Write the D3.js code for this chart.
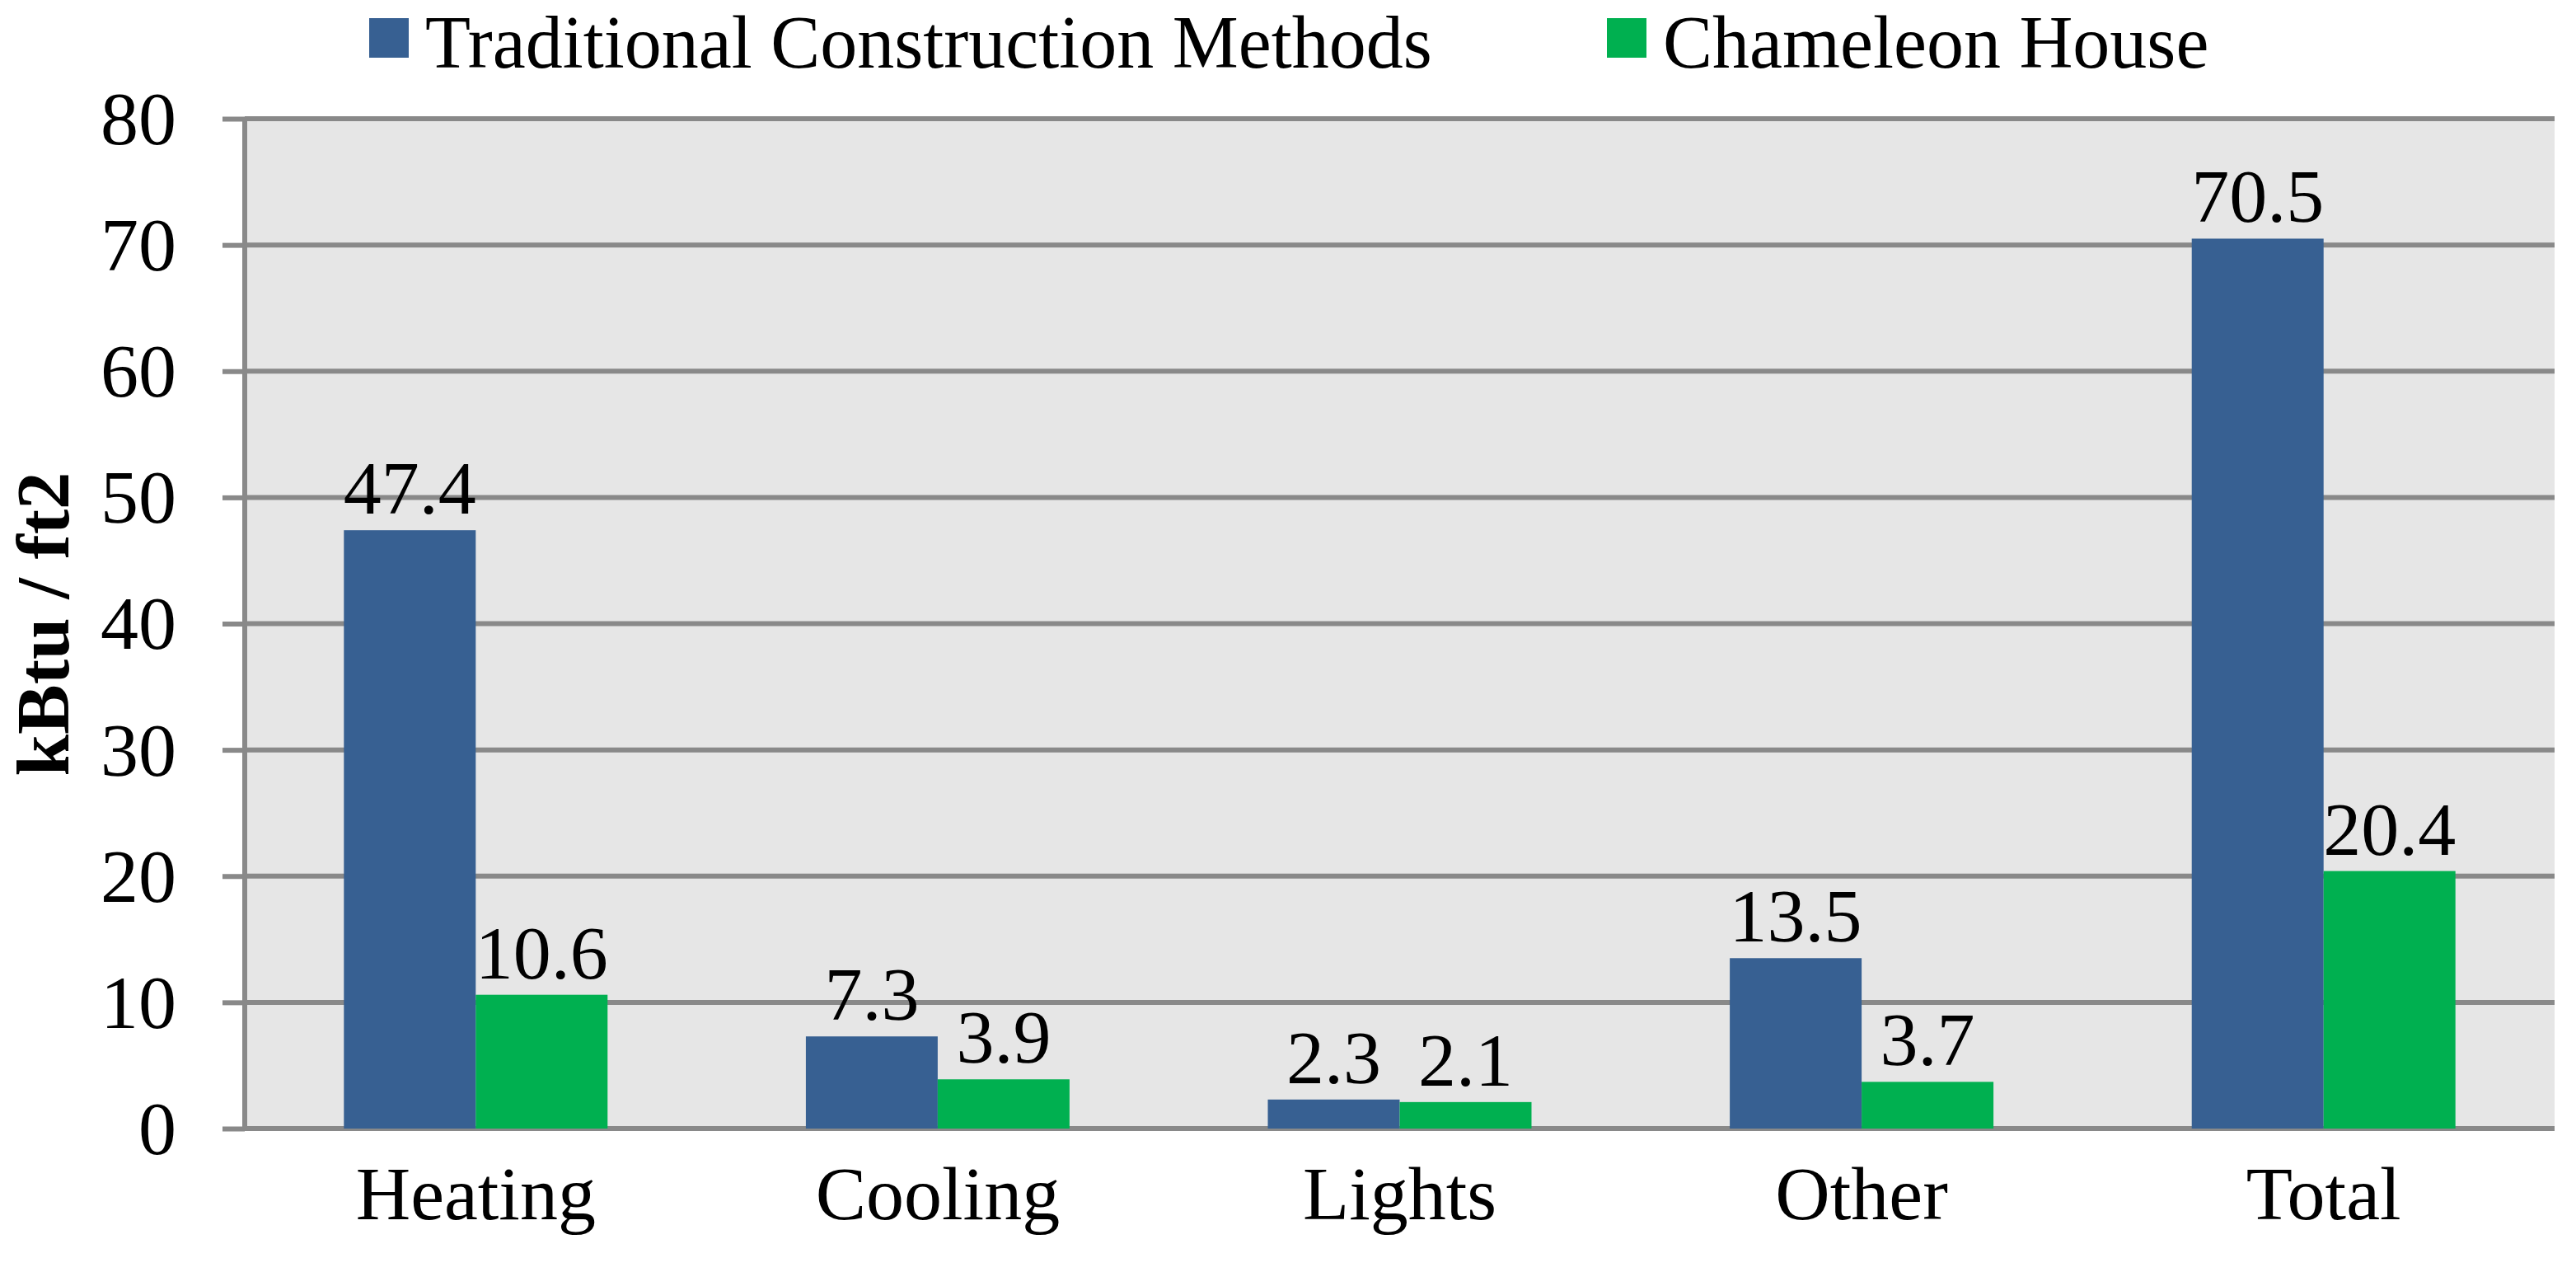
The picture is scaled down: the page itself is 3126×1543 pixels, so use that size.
<!DOCTYPE html>
<html>
<head>
<meta charset="utf-8">
<script src="https://cdn.jsdelivr.net/npm/d3@7"></script>
<style>
  body { margin: 0; background: #fff; }
  text { font-family: "Liberation Serif", "Times New Roman", serif; fill: #000; }
</style>
</head>
<body>
<div id="chart"></div>
<script>

// data
const categories = ["Heating", "Cooling", "Lights", "Other", "Total"];
const seriesNames = ["Traditional Construction Methods", "Chameleon House"];
const traditional = [47.4, 7.3, 2.3, 13.5, 70.5];
const chameleon = [10.6, 3.9, 2.1, 3.7, 20.4];
const yTicks = [0, 10, 20, 30, 40, 50, 60, 70, 80];

const width = 3126, height = 1543;
const margin = {top: 144, right: 26, bottom: 174, left: 297};
const colors = ["#376092", "#00b050"];
const gridColor = "#898989";

const svg = d3.select("#chart")
  .append("svg")
  .attr("width", width)
  .attr("height", height);

// scales
const xScale = d3.scaleBand()
  .domain(categories)
  .range([margin.left, width - margin.right]);

const xInner = d3.scaleBand()
  .domain(seriesNames)
  .range([0, xScale.bandwidth()])
  .paddingOuter(0.752);

const yScale = d3.scaleLinear()
  .domain([0, 80])
  .range([height - margin.bottom, margin.top]);

// plot background
svg.append("rect")
  .attr("x", margin.left)
  .attr("y", margin.top)
  .attr("width", width - margin.right - margin.left)
  .attr("height", height - margin.bottom - margin.top)
  .attr("fill", "#e6e6e6");

// y axis ticks and labels
const yAxis = svg.append("g")
  .attr("transform", `translate(${margin.left},0)`)
  .call(d3.axisLeft(yScale).tickValues(yTicks).tickSize(27).tickPadding(56)
        .tickFormat(d3.format("d")));
yAxis.select(".domain").remove();
yAxis.selectAll(".tick line").attr("stroke", gridColor).attr("stroke-width", 6);
yAxis.selectAll(".tick text")
  .attr("font-size", "92px")
  .attr("dy", "0.33em")
  .style("font-family", "'Liberation Serif', serif");

// gridlines
svg.append("g")
  .selectAll("line")
  .data(yTicks)
  .enter()
  .append("line")
    .attr("x1", margin.left)
    .attr("x2", width - margin.right)
    .attr("y1", d => yScale(d))
    .attr("y2", d => yScale(d))
    .attr("stroke", gridColor)
    .attr("stroke-width", 6);

// bars
const rows = categories.map((c, i) => ({cat: c, vals: [traditional[i], chameleon[i]]}));

const groups = svg.selectAll(".group")
  .data(rows)
  .enter()
  .append("g")
    .attr("class", "group")
    .attr("transform", d => `translate(${xScale(d.cat)},0)`);

groups.selectAll("rect")
  .data(d => d.vals.map((v, j) => ({name: seriesNames[j], v: v, j: j})))
  .enter()
  .append("rect")
    .attr("x", d => xInner(d.name))
    .attr("y", d => yScale(d.v))
    .attr("width", xInner.bandwidth())
    .attr("height", d => yScale(0) - yScale(d.v))
    .attr("fill", d => colors[d.j]);

// value labels
groups.selectAll(".val")
  .data(d => d.vals.map((v, j) => ({name: seriesNames[j], v: v})))
  .enter()
  .append("text")
    .attr("class", "val")
    .attr("x", d => xInner(d.name) + xInner.bandwidth() / 2)
    .attr("y", d => yScale(d.v) - 20)
    .attr("text-anchor", "middle")
    .attr("font-size", "92px")
    .text(d => d3.format(".1f")(d.v));

// y axis line, drawn over the bars
svg.append("line")
  .attr("x1", margin.left)
  .attr("x2", margin.left)
  .attr("y1", margin.top)
  .attr("y2", yScale(0) + 3)
  .attr("stroke", gridColor)
  .attr("stroke-width", 6);

// category axis
const xAxis = svg.append("g")
  .attr("transform", `translate(0,${yScale(0)})`)
  .call(d3.axisBottom(xScale).tickSize(0).tickPadding(110));
xAxis.select(".domain").remove();
xAxis.selectAll(".tick text")
  .attr("font-size", "92px")
  .attr("dy", "0")
  .style("font-family", "'Liberation Serif', serif");

// y axis title
svg.append("text")
  .attr("transform", `translate(83, 757) rotate(-90)`)
  .attr("text-anchor", "middle")
  .attr("font-size", "91px")
  .attr("font-weight", "bold")
  .text("kBtu / ft2");

// legend
const legendX = [448, 1950];
const legend = svg.selectAll(".legend")
  .data(seriesNames)
  .enter()
  .append("g")
    .attr("class", "legend")
    .attr("transform", (d, i) => `translate(${legendX[i]},0)`);

legend.append("rect")
  .attr("x", 0)
  .attr("y", 22)
  .attr("width", 48)
  .attr("height", 48)
  .attr("fill", (d, i) => colors[i]);

legend.append("text")
  .attr("x", 68)
  .attr("y", 82)
  .attr("font-size", "90px")
  .text(d => d);

</script>
</body>
</html>
